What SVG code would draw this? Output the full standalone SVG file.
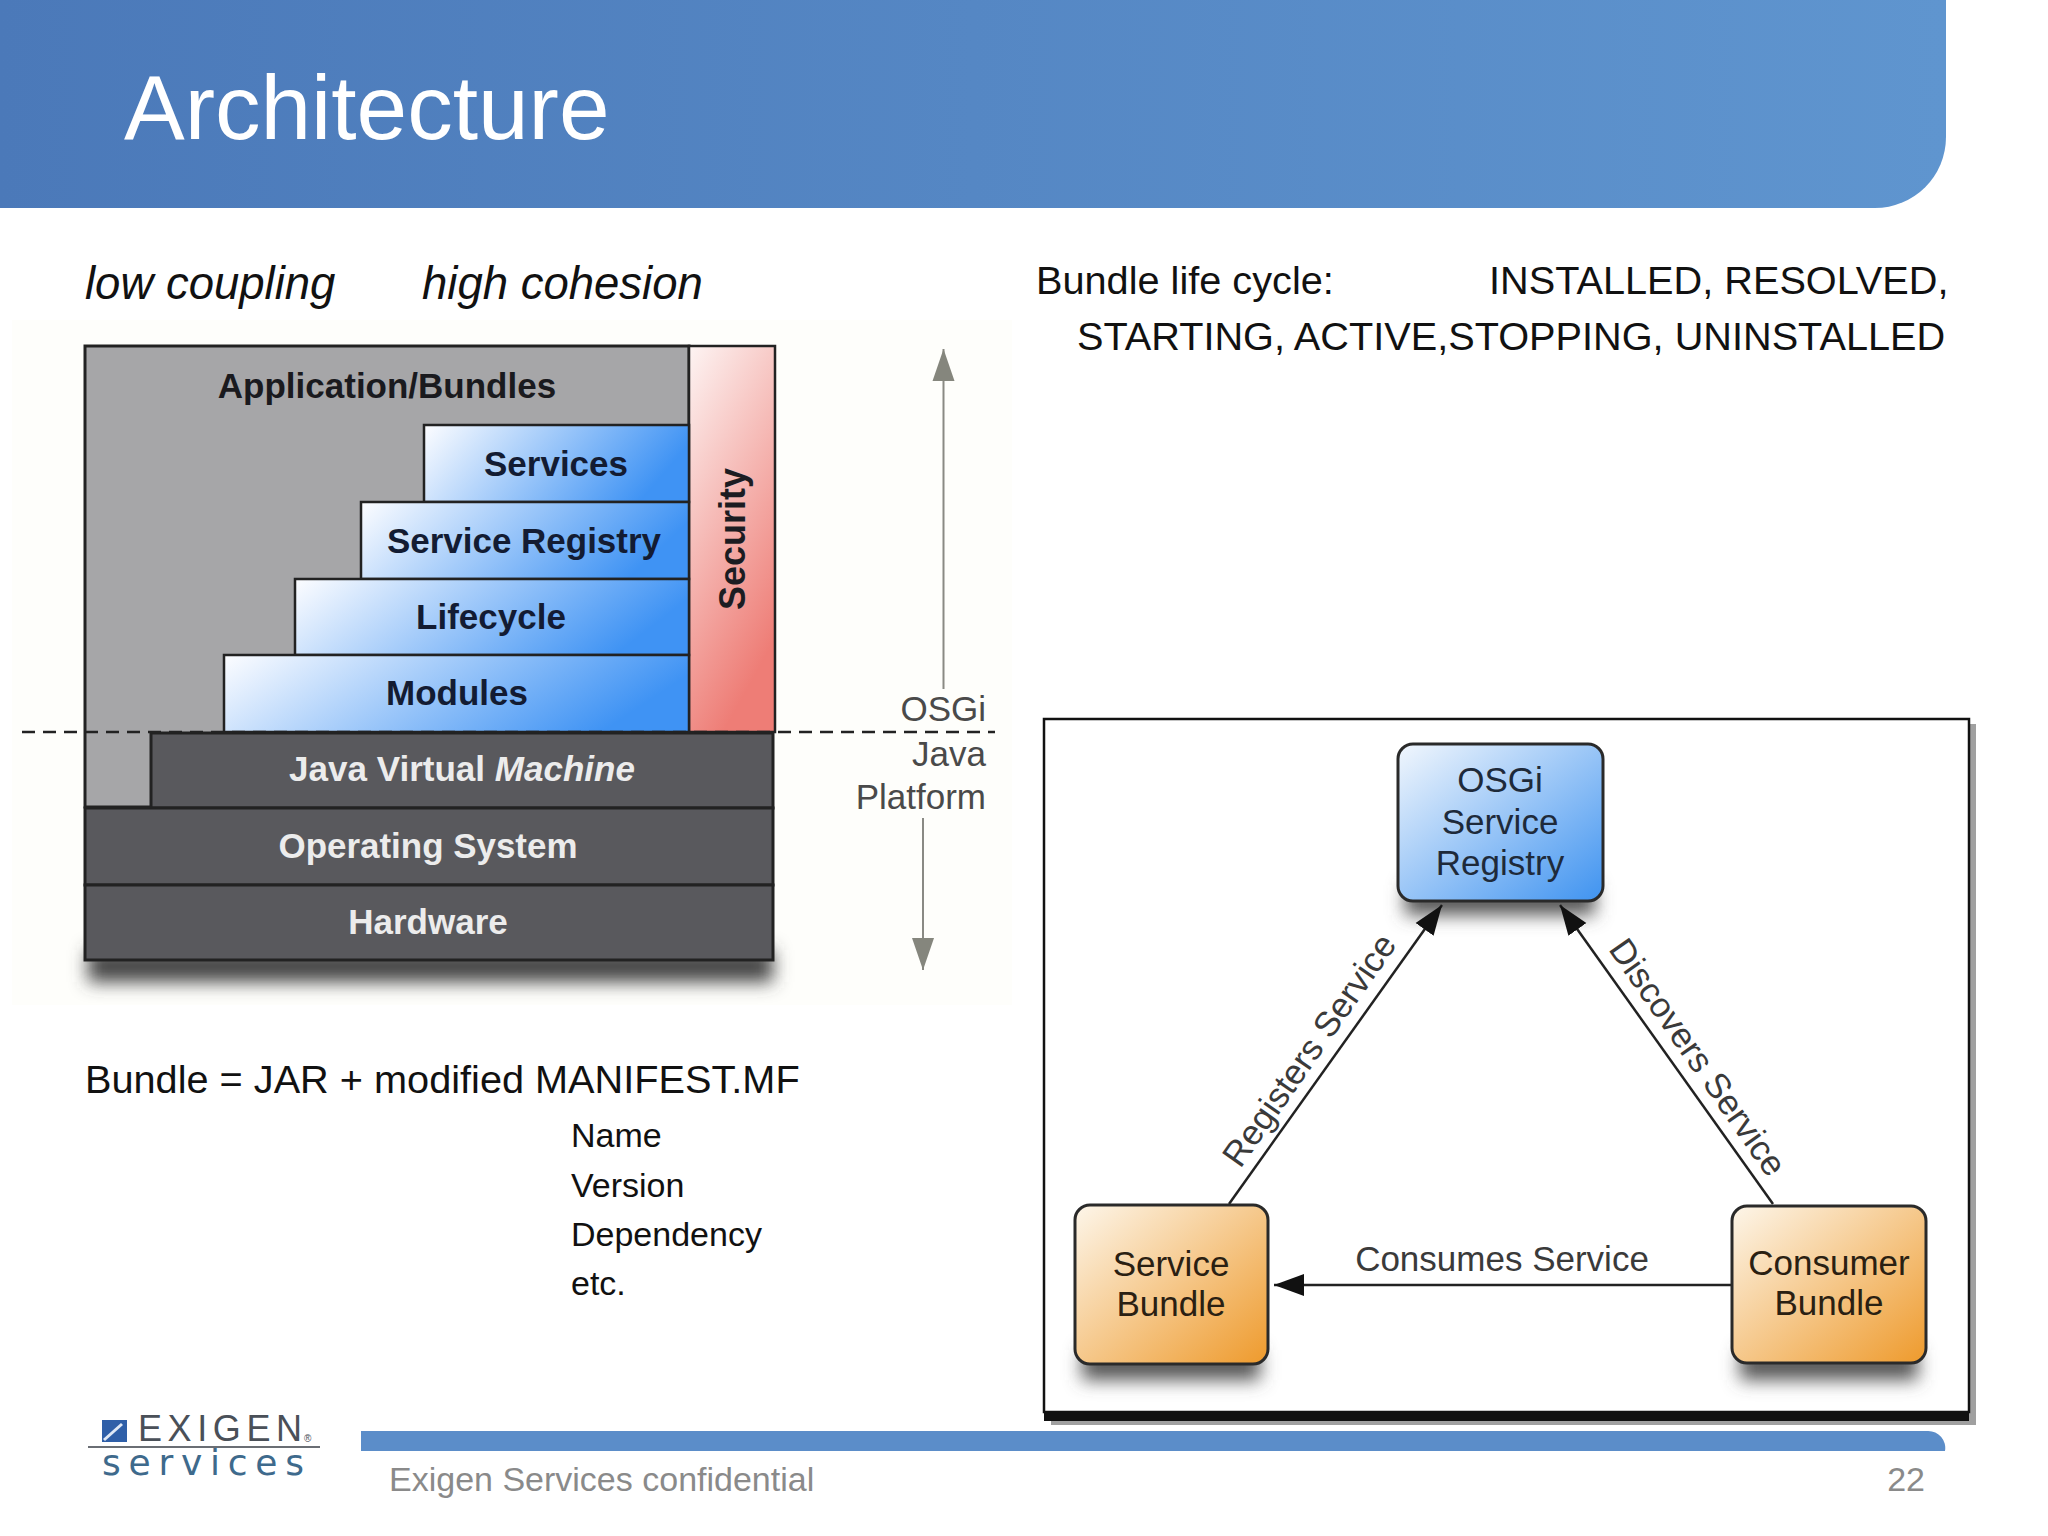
<svg xmlns="http://www.w3.org/2000/svg" width="2048" height="1536" viewBox="0 0 2048 1536">
<style>
text{font-family:"Liberation Sans",Arial,sans-serif}
.tb{font-size:39.700px;fill:#111}
.sm{font-size:34px;fill:#111}
.it{font-size:45.500px;font-style:italic;fill:#111}
.blk{stroke:#222;stroke-width:2.5}
.lb{font-size:35px;font-weight:bold;text-anchor:middle;fill:#131c33}
.lw{font-size:35px;font-weight:bold;text-anchor:middle;fill:#ececec}
.dk{fill:#59595d;stroke:#222;stroke-width:3}
.nt{font-size:35px;text-anchor:middle;fill:#1e2a3a}
.nb{font-size:35px;text-anchor:middle;fill:#2a2012}
.cl{font-size:35px;text-anchor:middle;fill:#3a3a3a}
.pl{font-size:35px;text-anchor:end;fill:#4a4a4a}
.ft{font-size:34px;fill:#8a8a8a}
.node{stroke:#2a2a2a;stroke-width:3}
</style>
<defs>
<linearGradient id="hd" x1="0" x2="1" y1="0" y2="0"><stop offset="0" stop-color="#4b79b9"/><stop offset="1" stop-color="#5f95cf"/></linearGradient>
<linearGradient id="blue" x1="0" x2="1" y1="0" y2="0.25"><stop offset="0" stop-color="#fdfdff"/><stop offset="1" stop-color="#3f93f4"/></linearGradient>
<linearGradient id="blue2" x1="0" x2="1" y1="0" y2="1"><stop offset="0" stop-color="#f2f7fd"/><stop offset="1" stop-color="#3f93f0"/></linearGradient>
<linearGradient id="org" x1="0" x2="1" y1="0" y2="1"><stop offset="0" stop-color="#fdf6ea"/><stop offset="1" stop-color="#ee9a2c"/></linearGradient>
<linearGradient id="red" x1="0" x2="0.4" y1="0" y2="1"><stop offset="0" stop-color="#fdf4f3"/><stop offset="1" stop-color="#ee7d76"/></linearGradient>
<filter id="bl" x="-20%" y="-150%" width="140%" height="400%"><feGaussianBlur stdDeviation="9"/></filter>
<marker id="ab" markerUnits="userSpaceOnUse" markerWidth="30" markerHeight="24" refX="30" refY="12" orient="auto"><path d="M0 1L30 12L0 23Z" fill="#111"/></marker>
<marker id="ag" markerUnits="userSpaceOnUse" markerWidth="32" markerHeight="24" refX="32" refY="12" orient="auto"><path d="M0 1L32 12L0 23Z" fill="#85867d"/></marker>
</defs>
<rect width="2048" height="1536" fill="#fff"/>
<path id="header" d="M0 0H1946V137A71 71 0 0 1 1875 208H0Z" fill="url(#hd)"/>
<text x="124" y="139" font-size="91" fill="#fff">Architecture</text>
<text class="it" x="85" y="299">low coupling</text>
<text class="it" x="422" y="299">high cohesion</text>
<text class="tb" x="1036" y="294">Bundle life cycle:</text>
<text class="tb" x="1489" y="294">INSTALLED, RESOLVED,</text>
<text class="tb" x="1077" y="350">STARTING, ACTIVE,STOPPING, UNINSTALLED</text>
<rect x="12" y="320" width="1000" height="685" fill="#fefefb"/>
<rect x="88" y="950" width="685" height="32" fill="#444" filter="url(#bl)"/>
<g id="application-bundles"><rect x="85" y="346" width="604" height="461" fill="#a6a6a8" stroke="#222" stroke-width="3"/><text class="lb" x="387" y="398" style="fill:#1a1a1e">Application/Bundles</text></g>
<g id="security"><rect x="689" y="346" width="86" height="386" fill="url(#red)" stroke="#222" stroke-width="2.5"/><text class="lb" transform="translate(745,539) rotate(-90)" font-size="36" style="fill:#1c1c22;font-size:36px">Security</text></g>
<g id="services"><rect x="424" y="425" width="265" height="77" fill="url(#blue)" class="blk"/><text class="lb" x="556" y="476">Services</text></g>
<g id="service-registry"><rect x="361" y="502" width="328" height="77" fill="url(#blue)" class="blk"/><text class="lb" x="524" y="553" textLength="274" lengthAdjust="spacingAndGlyphs">Service Registry</text></g>
<g id="lifecycle"><rect x="295" y="579" width="394" height="76" fill="url(#blue)" class="blk"/><text class="lb" x="491" y="629">Lifecycle</text></g>
<g id="modules"><rect x="224" y="655" width="465" height="77" fill="url(#blue)" class="blk"/><text class="lb" x="457" y="705">Modules</text></g>
<g id="jvm"><rect x="151" y="733" width="622" height="75" class="dk"/><text class="lw" x="462" y="781" textLength="346" lengthAdjust="spacingAndGlyphs">Java Virtual <tspan font-style="italic">Machine</tspan></text></g>
<g id="os"><rect x="85" y="808" width="688" height="77" class="dk"/><text class="lw" x="428" y="858" textLength="299" lengthAdjust="spacingAndGlyphs">Operating System</text></g>
<g id="hardware"><rect x="85" y="885" width="688" height="75" class="dk"/><text class="lw" x="428" y="934">Hardware</text></g>
<text class="pl" x="986" y="721">OSGi</text>
<text class="pl" x="986" y="766">Java</text>
<text class="pl" x="986" y="809">Platform</text>
<text class="tb" x="85" y="1093">Bundle = JAR + modified MANIFEST.MF</text>
<text class="sm" x="571" y="1147">Name</text>
<text class="sm" x="571" y="1197">Version</text>
<text class="sm" x="571" y="1246">Dependency</text>
<text class="sm" x="571" y="1295">etc.</text>
<rect x="1051" y="724" width="925" height="701" fill="#a0a0a0"/>
<rect x="1044" y="719" width="925" height="693" fill="#fff" stroke="#111" stroke-width="2.5"/>
<rect x="1044" y="1412" width="925" height="9" fill="#111"/>
<rect x="1405" y="885" width="190" height="30" fill="#555" filter="url(#bl)"/>
<rect x="1082" y="1350" width="178" height="30" fill="#555" filter="url(#bl)"/>
<rect x="1740" y="1350" width="178" height="30" fill="#555" filter="url(#bl)"/>
<g id="connectors" fill="none">
<path d="M943.500 689V349" stroke="#8a8a84" stroke-width="2" marker-end="url(#ag)"/>
<path d="M923 818V970" stroke="#8a8a84" stroke-width="2" marker-end="url(#ag)"/>
<path d="M1229 1204L1442 905" stroke="#222" stroke-width="2.500" marker-end="url(#ab)"/>
<path d="M1773 1204L1560 905" stroke="#222" stroke-width="2.500" marker-end="url(#ab)"/>
<path d="M1732 1285H1274" stroke="#222" stroke-width="2.500" marker-end="url(#ab)"/>
<path d="M22 732H995" stroke="#222" stroke-width="2.500" stroke-dasharray="13 8"/>
</g>
<text class="cl" x="1502" y="1271">Consumes Service</text>
<text class="cl" transform="translate(1319,1057) rotate(-55)">Registers Service</text>
<text class="cl" transform="translate(1688,1064) rotate(55)">Discovers Service</text>
<g id="osgi-registry"><rect class="node" x="1398" y="744" width="205" height="157" rx="15" fill="url(#blue2)"/><text class="nt" x="1500" y="792">OSGi</text><text class="nt" x="1500" y="834">Service</text><text class="nt" x="1500" y="875">Registry</text></g>
<g id="service-bundle"><rect class="node" x="1075" y="1205" width="193" height="159" rx="15" fill="url(#org)"/><text class="nb" x="1171" y="1276">Service</text><text class="nb" x="1171" y="1316">Bundle</text></g>
<g id="consumer-bundle"><rect class="node" x="1732" y="1206" width="194" height="157" rx="15" fill="url(#org)"/><text class="nb" x="1829" y="1275">Consumer</text><text class="nb" x="1829" y="1315">Bundle</text></g>
<g id="logo">
<rect x="102" y="1420" width="25" height="22" fill="#2f5fa8"/><path d="M104 1440L122 1424" stroke="#dfe8f5" stroke-width="3"/>
<text x="138" y="1441" font-size="36" fill="#4a5058" textLength="164">EXIGEN</text>
<text x="304" y="1442" font-size="10" fill="#4a5058">®</text>
<path d="M88 1447H320" stroke="#6a6e74" stroke-width="2"/>
<text x="102" y="1475" font-size="36" style="font-family:'DejaVu Sans',sans-serif" fill="#3e6a8c" textLength="202">services</text>
</g>
<path id="footer-bar" d="M361 1431H1928A17 17 0 0 1 1945 1451H361Z" fill="#5b8dc9"/>
<text class="ft" x="389" y="1491">Exigen Services confidential</text>
<text class="ft" x="1925" y="1491" text-anchor="end">22</text>
</svg>
